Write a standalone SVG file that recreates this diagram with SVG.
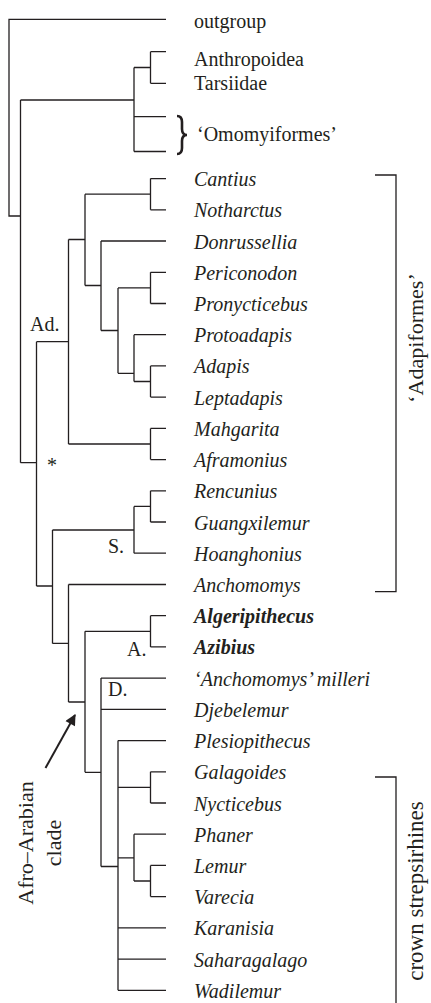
<svg xmlns="http://www.w3.org/2000/svg" width="431" height="1003" viewBox="0 0 431 1003">
<defs>
<style>
.t{font-family:"Liberation Serif","Times New Roman",serif;font-size:20px;fill:#231f20}
.i{font-style:italic}
.b{font-weight:bold}
.r{font-size:22px}
.ln{fill:none;stroke:#231f20;stroke-width:1.3}
</style>
<marker id="ah" viewBox="0 0 10 10" refX="9" refY="5" markerWidth="13" markerHeight="11" markerUnits="userSpaceOnUse" orient="auto">
<path d="M0,0 L10,5 L0,10 Z" fill="#231f20"/>
</marker>
</defs>
<rect width="431" height="1003" fill="#fff"/>
<g id="connectors" class="ln">
<path d="M166,19.3 H9 V216 H20.5 M20.5,100 V462.7"/>
<path d="M20.5,100 H134 M134,67.5 V151.5 M134,67.5 H150.5 M150.5,51.7 V83.3 M150.5,51.7 H166 M150.5,83.3 H166 M134,116.7 H166 M134,151.5 H166"/>
<path d="M20.5,462.7 H36.5 M36.5,341.7 V586"/>
<path d="M36.5,341.7 H68.5 M68.5,239.5 V444 M68.5,239.5 H85 M85,194.2 V285.5 M85,194.2 H150.5 M150.5,178.6 V209.8 M150.5,178.6 H166 M150.5,209.8 H166"/>
<path d="M85,285.5 H101 M101,241 V330.5 M101,241 H166 M101,330.5 H118 M118,287.9 V373.3 M118,287.9 H150.5 M150.5,272.3 V303.5 M150.5,272.3 H166 M150.5,303.5 H166"/>
<path d="M118,373.3 H134 M134,334.7 V381.5 M134,334.7 H166 M134,381.5 H150.5 M150.5,365.9 V397.1 M150.5,365.9 H166 M150.5,397.1 H166"/>
<path d="M68.5,444 H150.5 M150.5,428.4 V459.6 M150.5,428.4 H166 M150.5,459.6 H166"/>
<path d="M36.5,586 H52.5 M52.5,530 V643.4"/>
<path d="M52.5,530 H134 M134,506.4 V553.2 M134,506.4 H150.5 M150.5,490.8 V522 M150.5,490.8 H166 M150.5,522 H166 M134,553.2 H166"/>
<path d="M52.5,643.4 H68.5 M68.5,584.5 V702 M68.5,584.5 H166"/>
<path d="M68.5,702 H85 M85,631.3 V772.3 M85,631.3 H150.5 M150.5,615.7 V646.9 M150.5,615.7 H166 M150.5,646.9 H166"/>
<path d="M85,772.3 H101 M101,678.1 V866.5 M101,678.1 H166 M101,709.3 H166"/>
<path d="M101,866.5 H118 M118,740.6 V990.3 M118,740.6 H166 M118,787.4 H150.5 M150.5,771.8 V803 M150.5,771.8 H166 M150.5,803 H166"/>
<path d="M118,857.8 H134 M134,834.2 V881 M134,834.2 H166 M134,881 H150.5 M150.5,865.4 V896.6 M150.5,865.4 H166 M150.5,896.6 H166"/>
<path d="M118,927.9 H166 M118,959.1 H166 M118,990.3 H166"/>
<path d="M375,175 H396 V591.7 H375"/>
<path d="M375,777 H396 V1003"/>
<path d="M177,116 Q182,116 182,122 L182,129 Q182,135 187,135 Q182,135 182,141 L182,148 Q182,154 177,154" stroke-width="2.6"/>
<path d="M45.5,768 L75,715" stroke-width="2" marker-end="url(#ah)"/>
</g>
<g id="n-outgroup"><text class="t" x="194" y="28">outgroup</text></g>
<g id="n-anthropoidea"><text class="t" x="194" y="66">Anthropoidea</text></g>
<g id="n-tarsiidae"><text class="t" x="194" y="90">Tarsiidae</text></g>
<g id="n-omomyiformes"><text class="t" x="197" y="141">‘Omomyiformes’</text></g>
<g id="n-cantius"><text class="t i" x="194" y="186">Cantius</text></g>
<g id="n-notharctus"><text class="t i" x="194" y="217">Notharctus</text></g>
<g id="n-donrussellia"><text class="t i" x="194" y="248.5">Donrussellia</text></g>
<g id="n-periconodon"><text class="t i" x="194" y="279.8">Periconodon</text></g>
<g id="n-pronycticebus"><text class="t i" x="194" y="311">Pronycticebus</text></g>
<g id="n-protoadapis"><text class="t i" x="194" y="342.2">Protoadapis</text></g>
<g id="n-adapis"><text class="t i" x="194" y="373.4">Adapis</text></g>
<g id="n-leptadapis"><text class="t i" x="194" y="404.6">Leptadapis</text></g>
<g id="n-mahgarita"><text class="t i" x="194" y="435.9">Mahgarita</text></g>
<g id="n-aframonius"><text class="t i" x="194" y="467.1">Aframonius</text></g>
<g id="n-rencunius"><text class="t i" x="194" y="498.3">Rencunius</text></g>
<g id="n-guangxilemur"><text class="t i" x="194" y="529.5">Guangxilemur</text></g>
<g id="n-hoanghonius"><text class="t i" x="194" y="560.7">Hoanghonius</text></g>
<g id="n-anchomomys"><text class="t i" x="194" y="592">Anchomomys</text></g>
<g id="n-algeripithecus"><text class="t i b" x="194" y="623.2">Algeripithecus</text></g>
<g id="n-azibius"><text class="t i b" x="194" y="654.4">Azibius</text></g>
<g id="n-milleri"><text class="t i" x="194" y="685.6">‘Anchomomys’ milleri</text></g>
<g id="n-djebelemur"><text class="t i" x="194" y="716.8">Djebelemur</text></g>
<g id="n-plesiopithecus"><text class="t i" x="194" y="748.1">Plesiopithecus</text></g>
<g id="n-galagoides"><text class="t i" x="194" y="779.3">Galagoides</text></g>
<g id="n-nycticebus"><text class="t i" x="194" y="810.5">Nycticebus</text></g>
<g id="n-phaner"><text class="t i" x="194" y="841.7">Phaner</text></g>
<g id="n-lemur"><text class="t i" x="194" y="872.9">Lemur</text></g>
<g id="n-varecia"><text class="t i" x="194" y="904.1">Varecia</text></g>
<g id="n-karanisia"><text class="t i" x="194" y="935.4">Karanisia</text></g>
<g id="n-saharagalago"><text class="t i" x="194" y="966.6">Saharagalago</text></g>
<g id="n-wadilemur"><text class="t i" x="194" y="997.8">Wadilemur</text></g>
<g id="lbl-ad"><text class="t" x="30" y="331">Ad.</text></g>
<g id="lbl-star"><text class="t" x="52" y="472" text-anchor="middle">*</text></g>
<g id="lbl-s"><text class="t" x="108" y="553">S.</text></g>
<g id="lbl-a"><text class="t" x="127" y="656">A.</text></g>
<g id="lbl-d"><text class="t" x="108" y="696">D.</text></g>
<g id="lbl-adapiformes"><text class="t r" transform="translate(423,338) rotate(-90)" text-anchor="middle">‘Adapiformes’</text></g>
<g id="lbl-crown"><text class="t" style="font-size:23px" transform="translate(423,891) rotate(-90)" text-anchor="middle">crown strepsirhines</text></g>
<g id="lbl-afro"><text class="t r" transform="translate(33,843) rotate(-90)" text-anchor="middle">Afro–Arabian</text><text class="t r" transform="translate(61,843) rotate(-90)" text-anchor="middle">clade</text></g>
</svg>
